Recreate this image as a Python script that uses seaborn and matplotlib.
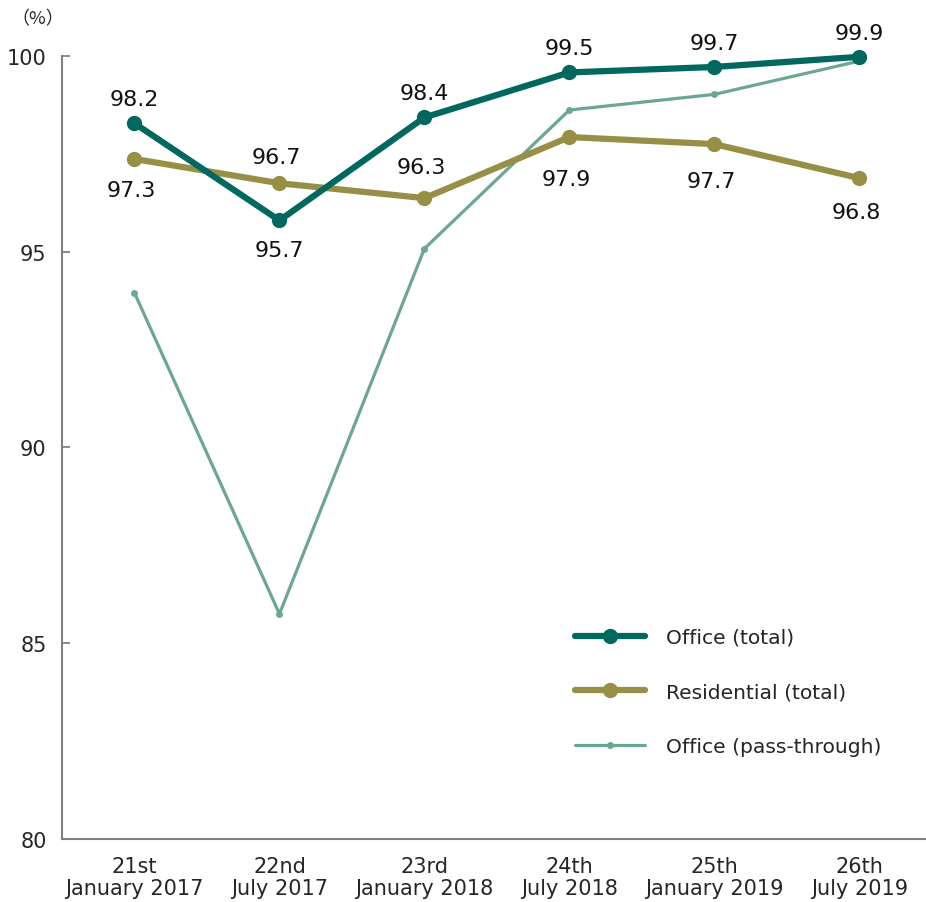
import matplotlib
matplotlib.use("Agg")
import matplotlib.pyplot as plt
import seaborn as sns
import pandas as pd
import numpy as np

categories = ["21st\nJanuary 2017", "22nd\nJuly 2017", "23rd\nJanuary 2018",
              "24th\nJuly 2018", "25th\nJanuary 2019", "26th\nJuly 2019"]
office_total = [98.28, 95.8, 98.43, 99.58, 99.72, 99.98]
office_total_labels = ["98.2", "95.7", "98.4", "99.5", "99.7", "99.9"]
residential_total = [97.37, 96.75, 96.37, 97.93, 97.75, 96.88]
residential_labels = ["97.3", "96.7", "96.3", "97.9", "97.7", "96.8"]
office_pass = [93.95, 85.75, 95.08, 98.62, 99.02, 99.87]
yticks = [80, 85, 90, 95, 100]

C_OFF = "#00685E"
C_RES = "#978F46"
C_PASS = "#6BA88F"

sns.set_style("white")
plt.rcParams['font.family'] = ['DejaVu Sans']

fig = plt.figure(figsize=(9.26, 9.03), dpi=100)
ax = fig.add_axes([62/926, 63/903, (926-62)/926, 783/903])

x = np.arange(len(categories))
df = pd.DataFrame({"x": x, "office": office_total, "res": residential_total, "pass": office_pass})

sns.lineplot(data=df, x="x", y="pass", ax=ax, color=C_PASS, lw=2.3, marker="o",
             markersize=5, markeredgewidth=0, label="Office (pass-through)", clip_on=False, zorder=3)
sns.lineplot(data=df, x="x", y="res", ax=ax, color=C_RES, lw=4.5, marker="o",
             markersize=11, markeredgewidth=0, label="Residential (total)", clip_on=False, zorder=4)
sns.lineplot(data=df, x="x", y="office", ax=ax, color=C_OFF, lw=4.5, marker="o",
             markersize=11, markeredgewidth=0, label="Office (total)", clip_on=False, zorder=5)

fs = 16
off_dy = [24, -30, 24, 24, 24, 24]
for i, (v, t) in enumerate(zip(office_total, office_total_labels)):
    ax.annotate(t, (i, v), xytext=(0, off_dy[i]), textcoords="offset pixels",
                ha="center", va="center", fontsize=fs, color="#111111")
res_dy = [-31, 26, 31, -42, -37, -34]
for i, (v, t) in enumerate(zip(residential_total, residential_labels)):
    ax.annotate(t, (i, v), xytext=(-3, res_dy[i]), textcoords="offset pixels",
                ha="center", va="center", fontsize=fs, color="#111111")

ax.set_xlim(-0.5, 5.46)
ax.set_ylim(80, 100)
ax.set_yticks(yticks)
ax.set_yticklabels([str(v) for v in yticks], fontsize=15)
ax.set_xticks(x)
ax.set_xticklabels(categories, fontsize=15, linespacing=1.15)
ax.set_xticks(np.arange(0.5, 5.5, 1), minor=True)
ax.tick_params(axis="x", which="major", length=0, pad=12)
ax.tick_params(axis="x", which="minor", direction="in", length=7, width=1.3, color="#808080")
ax.tick_params(axis="y", direction="in", length=6, width=1.3, color="#808080", pad=11, left=True)
ax.set_xlabel("")
ax.set_ylabel("")
for s in ["top", "right"]:
    ax.spines[s].set_visible(False)
for s in ["left", "bottom"]:
    ax.spines[s].set_color("#808080")
    ax.spines[s].set_linewidth(1.5)

fig.text(11/926, 1 - 19/903, "（%）", fontsize=13, ha="left", va="center",
         family=['Noto Sans CJK JP', 'DejaVu Sans'])

h, l = ax.get_legend_handles_labels()
order = [2, 1, 0]
leg = ax.legend([h[i] for i in order], [l[i] for i in order], loc="upper left",
                bbox_to_anchor=((575 - 62) / 864, 1 - (629 - 57) / 783), bbox_transform=ax.transAxes,
                frameon=False, fontsize=14.6, handlelength=3.45, handletextpad=1.02, labelspacing=1.75,
                borderaxespad=0, borderpad=0)

fig.savefig("out.png", dpi=100)
